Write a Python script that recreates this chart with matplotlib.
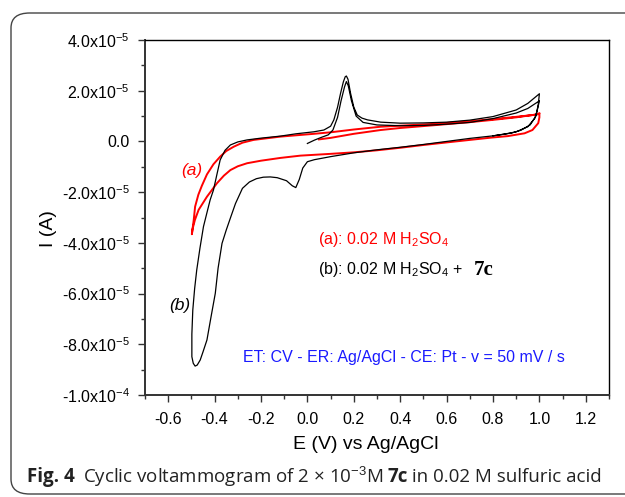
import matplotlib
matplotlib.use("Agg")
import matplotlib.pyplot as plt
from matplotlib.patches import FancyBboxPatch
from matplotlib.ticker import MultipleLocator, FixedLocator

plt.rcParams['font.family'] = ['Liberation Sans', 'DejaVu Sans']
plt.rcParams['mathtext.fontset'] = 'custom'
plt.rcParams['mathtext.rm'] = 'Liberation Sans'
plt.rcParams['mathtext.it'] = 'Liberation Sans:italic'
plt.rcParams['mathtext.bf'] = 'Liberation Sans:bold'

# Potential (V) and current (x1e-5 A)
# (b) 0.02 M H2SO4 + 7c
b_E = [0.00, 0.03, 0.06, 0.09, 0.11, 0.13, 0.145, 0.16, 0.168, 0.176, 0.19, 0.21,
       0.24, 0.30, 0.40, 0.50, 0.60, 0.70, 0.80, 0.90, 0.95, 1.00,
       0.99, 0.98, 0.95, 0.90, 0.85, 0.80, 0.70, 0.60, 0.50, 0.40, 0.30, 0.20,
       0.10, 0.03, 0.00, -0.02, -0.035, -0.05, -0.065, -0.09, -0.13, -0.16, -0.19,
       -0.22, -0.25, -0.28, -0.31, -0.33, -0.35, -0.368, -0.385, -0.397, -0.415,
       -0.433, -0.45, -0.462, -0.475, -0.484, -0.492, -0.498, -0.498, -0.494,
       -0.486, -0.477, -0.463, -0.448, -0.43, -0.419, -0.405, -0.39, -0.376,
       -0.355, -0.332, -0.30, -0.26, -0.20, -0.116, -0.05, 0.028, 0.071, 0.10,
       0.114, 0.13, 0.143, 0.155, 0.163, 0.168, 0.175, 0.186, 0.20, 0.215,
       0.235, 0.259, 0.316, 0.40, 0.50, 0.60, 0.70, 0.80, 0.90, 0.95, 1.00,
       0.995, 0.985, 0.96, 0.92, 0.88, 0.80]
b_I = [-0.08, 0.05, 0.16, 0.26, 0.45, 0.95, 1.60, 2.15, 2.36, 2.20, 1.60, 1.00,
       0.75, 0.65, 0.62, 0.63, 0.68, 0.75, 0.90, 1.12, 1.30, 1.60,
       1.20, 0.91, 0.58, 0.38, 0.29, 0.22, 0.12, 0.00, -0.12, -0.23, -0.33, -0.45,
       -0.60, -0.72, -0.80, -1.05, -1.50, -1.82, -1.75, -1.55, -1.43, -1.40, -1.41,
       -1.47, -1.60, -1.85, -2.45, -2.97, -3.50, -4.02, -5.00, -5.99, -6.90,
       -7.83, -8.30, -8.62, -8.82, -8.86, -8.75, -8.49, -7.60, -6.65,
       -5.80, -5.07, -4.20, -3.36, -2.70, -2.30, -1.92, -1.30, -0.73,
       -0.35, -0.14, -0.02, 0.06, 0.13, 0.21, 0.30, 0.38, 0.45, 0.60,
       0.85, 1.35, 1.90, 2.35, 2.55, 2.58, 2.45, 1.90, 1.35, 1.04,
       0.92, 0.85, 0.76, 0.72, 0.73, 0.76, 0.84, 0.98, 1.24, 1.50, 1.88,
       1.45, 1.00, 0.65, 0.44, 0.33, 0.22]

# (a) 0.02 M H2SO4
a_E = [0.05, 0.10, 0.20, 0.316, 0.40, 0.56, 0.70, 0.80, 0.90, 1.00,
       1.00, 0.995, 0.97, 0.936, 0.864, 0.792, 0.70, 0.60, 0.50, 0.40, 0.30,
       0.20, 0.10, -0.03, -0.116, -0.20, -0.26, -0.30, -0.332, -0.36, -0.39,
       -0.433, -0.469, -0.485, -0.495, -0.498,
       -0.49, -0.484, -0.47, -0.455, -0.433, -0.405, -0.376, -0.35, -0.318,
       -0.28, -0.232, -0.116, 0.028, 0.10, 0.20, 0.316, 0.40, 0.56, 0.70,
       0.80, 0.90, 0.98, 1.00]
a_I = [0.08, 0.14, 0.30, 0.45, 0.53, 0.65, 0.76, 0.85, 0.95, 1.08,
       0.95, 0.72, 0.45, 0.32, 0.21, 0.15, 0.06, -0.04, -0.14, -0.25, -0.35,
       -0.43, -0.49, -0.56, -0.65, -0.76, -0.86, -0.98, -1.13, -1.35, -1.65,
       -2.18, -2.70, -3.10, -3.45, -3.66,
       -3.10, -2.57, -2.10, -1.75, -1.30, -0.90, -0.60, -0.38, -0.21,
       -0.05, 0.06, 0.19, 0.30, 0.36, 0.47, 0.58, 0.62, 0.70, 0.80,
       0.88, 0.97, 1.05, 1.11]

x_ticks = [-0.6, -0.4, -0.2, 0.0, 0.2, 0.4, 0.6, 0.8, 1.0, 1.2]
x_labels = ["-0.6", "-0.4", "-0.2", "0.0", "0.2", "0.4", "0.6", "0.8", "1.0", "1.2"]
y_ticks = [4e-5, 2e-5, 0.0, -2e-5, -4e-5, -6e-5, -8e-5, -1e-4]
y_labels = ["4.0x10$^{-5}$", "2.0x10$^{-5}$", "0.0", "-2.0x10$^{-5}$",
            "-4.0x10$^{-5}$", "-6.0x10$^{-5}$", "-8.0x10$^{-5}$", "-1.0x10$^{-4}$"]

fig = plt.figure(figsize=(6.25, 4.97), dpi=100)

# rounded frame around figure
frame = FancyBboxPatch((11 / 625, 3 / 497), 640 / 625, 481 / 497,
                       boxstyle="round,pad=0,rounding_size=0.03",
                       transform=fig.transFigure, fill=False,
                       edgecolor='#444444', linewidth=1.0)
fig.patches.append(frame)

ax = fig.add_axes([145 / 625, 1 - 395 / 497, 464 / 625, 355 / 497])

ax.plot(a_E, [v * 1e-5 for v in a_I], color='red', linewidth=1.4)
ax.plot(b_E, [v * 1e-5 for v in b_I], color='black', linewidth=0.9)

ax.set_xlim(-0.7, 1.3)
ax.set_ylim(-1e-4, 4e-5)
ax.xaxis.set_major_locator(FixedLocator(x_ticks))
ax.xaxis.set_minor_locator(MultipleLocator(0.1))
ax.set_xticklabels(x_labels)
ax.set_yticks(y_ticks)
ax.set_yticklabels(y_labels)
ax.yaxis.set_minor_locator(MultipleLocator(1e-5))
ax.tick_params(which='major', direction='out', length=5, width=1.0, labelsize=11.5, color='#333333')
ax.tick_params(which='minor', direction='out', length=3, width=1.0, color='#333333')
ax.tick_params(axis='y', pad=6)
ax.tick_params(axis='x', pad=7)
for side in ['left', 'bottom']:
    ax.spines[side].set_linewidth(1.4)
    ax.spines[side].set_color('#333333')
for side in ['top', 'right']:
    ax.spines[side].set_linewidth(1.0)

ax.set_xlabel("E (V) vs Ag/AgCl", fontsize=14)
ax.xaxis.set_label_coords(0.475, -0.115)
ax.set_ylabel("I (A)", fontsize=14)
ax.yaxis.set_label_coords(-0.19, 0.47)

ax.text(-0.497, -1.13e-5, "(a)", color='red', style='italic', fontsize=12.5,
        ha='center', va='center')
ax.text(-0.549, -6.49e-5, "(b)", color='black', style='italic', fontsize=12.5,
        ha='center', va='center')
ax.text(0.044, -3.85e-5, "(a): 0.02 M H$_{2}$SO$_{4}$", color='red', fontsize=11.5,
        ha='left', va='center')
ax.text(0.044, -5.07e-5, "(b): 0.02 M H$_{2}$SO$_{4}$ +", color='black', fontsize=11.5,
        ha='left', va='center')
ax.text(0.718, -5.07e-5, "7c", color='black', fontsize=15, fontweight='bold',
        family='Liberation Serif', ha='left', va='center')
ax.text(-0.276, -8.53e-5, "ET: CV - ER: Ag/AgCl - CE: Pt - v = 50 mV / s",
        color='#1a1aff', fontsize=11.5, ha='left', va='center')

# caption, built from pieces so bold parts use the same family
cap_y = 1 - 477 / 497
t1 = fig.text(27 / 625, cap_y, "Fig. 4", fontsize=13.5, family='Open Sans',
              fontweight='bold', ha='left', va='center', color='#222222')
fig.canvas.draw()
r = fig.canvas.get_renderer()
x0 = t1.get_window_extent(r).x1 + 8
t2 = fig.text(x0 / 625, cap_y, "Cyclic voltammogram of 2 \u00d7 10$^{\u22123}$M",
              fontsize=13.5, family='Open Sans', ha='left', va='center', color='#222222')
x1 = t2.get_window_extent(r).x1 + 4
t3 = fig.text(x1 / 625, cap_y, "7c", fontsize=13.5, family='Open Sans',
              fontweight='bold', ha='left', va='center', color='#222222')
x2 = t3.get_window_extent(r).x1
fig.text(x2 / 625, cap_y, " in 0.02 M sulfuric acid", fontsize=13.5, family='Open Sans',
         ha='left', va='center', color='#222222')

fig.savefig("out.png", dpi=100)
